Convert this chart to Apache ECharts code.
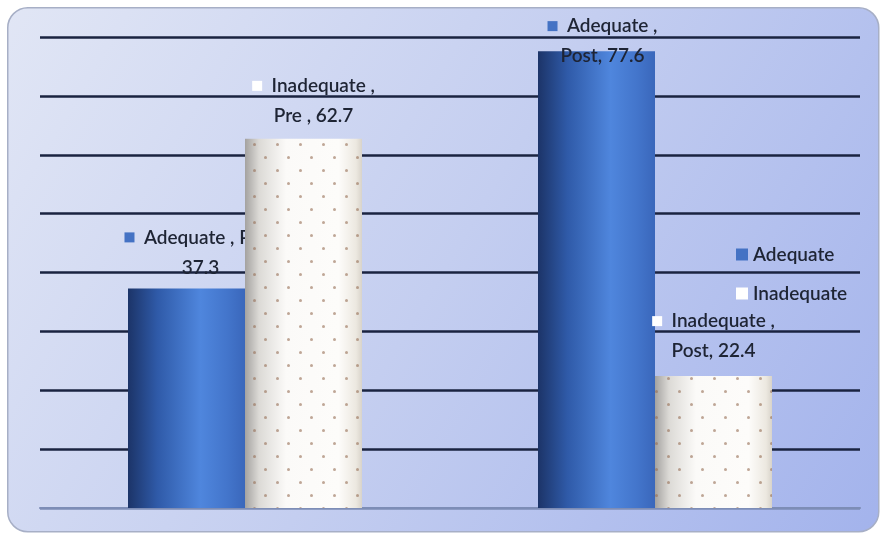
<!DOCTYPE html>
<html><head><meta charset="utf-8">
<script src="https://cdn.jsdelivr.net/npm/echarts@6/dist/echarts.min.js"></script>
<style>html,body{margin:0;padding:0;background:#fff}#c{width:883px;height:537px}</style>
</head><body><div id="c"></div>
<script>
const categories = ['Pre', 'Post'];
const seriesNames = ['Adequate', 'Inadequate'];
const adequateValues = [37.3, 77.6];
const inadequateValues = [62.7, 22.4];
const yTicks = [0, 10, 20, 30, 40, 50, 60, 70, 80];

const FONT = 'Lato';
const textColor = '#1e2434';

function labelText(sName, cat, v, mk) {
  // Excel-style "Series , Category , Value" with line break as in reference
  if (sName === 'Adequate' && cat === 'Pre') return '{' + mk + '|}{t|  ' + sName + ' , ' + cat + ' ,}\n{t|' + v + '}';
  if (cat === 'Pre') return '{' + mk + '|}{t|  ' + sName + ' ,}\n{t|' + cat + ' , ' + v + '}';
  return '{' + mk + '|}{t|  ' + sName + ' ,}\n{t|' + cat + ', ' + v + '}';
}

const richBase = {
  t: { fontFamily: FONT, fontSize: 19, fontWeight: 600, color: textColor, lineHeight: 30 },
  ma: { width: 10, height: 10, backgroundColor: '#4472c4' },
  mi: { width: 10, height: 10, backgroundColor: '#ffffff' }
};

const adequateOffsets = [[14, -6], [6, 20]];
const inadequateOffsets = [[10, -8], [0, -10]];

const adequateGrad = {
  type: 'linear', x: 0, y: 0, x2: 1, y2: 0,
  colorStops: [
    { offset: 0, color: '#1c3468' },
    { offset: 0.25, color: '#2f5aa8' },
    { offset: 0.62, color: '#4f86dd' },
    { offset: 0.85, color: '#4375cb' },
    { offset: 1, color: '#3a67bb' }
  ]
};
const inadequateGrad = {
  type: 'linear', x: 0, y: 0, x2: 1, y2: 0,
  colorStops: [
    { offset: 0, color: '#a4a2a0' },
    { offset: 0.12, color: '#dcdad6' },
    { offset: 0.35, color: '#fbfaf8' },
    { offset: 0.8, color: '#fdfcfa' },
    { offset: 0.95, color: '#ece8e0' },
    { offset: 1, color: '#d8d3ca' }
  ]
};

const chart = echarts.init(document.getElementById('c'), null, { renderer: 'canvas' });

const gridColors = yTicks.map((t, i) => i === 0 ? '#7d8db6' : '#1a2340');

chart.setOption({
  animation: false,
  backgroundColor: '#ffffff',
  graphic: [{
    type: 'rect', left: 7, top: 7, z: -10,
    shape: { width: 871, height: 524, r: 20 },
    style: {
      fill: { type: 'linear', x: 0, y: 0, x2: 1, y2: 1, colorStops: [
        { offset: 0, color: '#e1e6f5' }, { offset: 0.5, color: '#c4cef0' }, { offset: 1, color: '#a3b3ec' } ] },
      stroke: '#a7afc6', lineWidth: 1.5
    }
  }],
  grid: { left: 40, right: 23, top: 37, bottom: 29, containLabel: false },
  legend: {
    orient: 'vertical', left: 731, top: 240, itemGap: 20,
    itemWidth: 12, itemHeight: 12, icon: 'rect',
    textStyle: { fontFamily: FONT, fontSize: 19, fontWeight: 600, color: textColor },
    data: [
      { name: 'Adequate', itemStyle: { color: '#4472c4', decal: 'none' } },
      { name: 'Inadequate', itemStyle: { color: '#ffffff', decal: 'none' } }
    ]
  },
  xAxis: {
    type: 'category', data: categories,
    axisLine: { show: true, lineStyle: { color: '#7d8db6', width: 2 } },
    axisTick: { show: false }, axisLabel: { show: false }, splitLine: { show: false }
  },
  yAxis: {
    type: 'value', min: yTicks[0], max: yTicks[yTicks.length - 1], interval: 10,
    axisLine: { show: false }, axisTick: { show: false }, axisLabel: { show: false },
    splitLine: { show: true, lineStyle: { color: gridColors, width: 2.5 } }
  },
  series: [
    {
      name: seriesNames[0], type: 'bar', z: 2, barWidth: 117, barGap: '0%',
      itemStyle: { color: adequateGrad },
      data: adequateValues.map((v, i) => ({
        value: v,
        label: {
          show: true, position: 'top', distance: 0, offset: adequateOffsets[i],
          formatter: labelText(seriesNames[0], categories[i], v, 'ma'), rich: richBase
        }
      }))
    },
    {
      name: seriesNames[1], type: 'bar', z: 3, barWidth: 117, barGap: '0%',
      itemStyle: {
        color: inadequateGrad,
        decal: {
          symbol: 'circle', symbolSize: 1, color: 'rgba(150,110,85,0.6)',
          dashArrayX: [[2.5, 19.5], [0, 11, 2.5, 8.5]], dashArrayY: [2.5, 9.5]
        }
      },
      data: inadequateValues.map((v, i) => ({
        value: v,
        label: {
          show: true, position: 'top', distance: 0, offset: inadequateOffsets[i],
          formatter: labelText(seriesNames[1], categories[i], v, 'mi'), rich: richBase
        }
      }))
    }
  ]
});
</script></body></html>
